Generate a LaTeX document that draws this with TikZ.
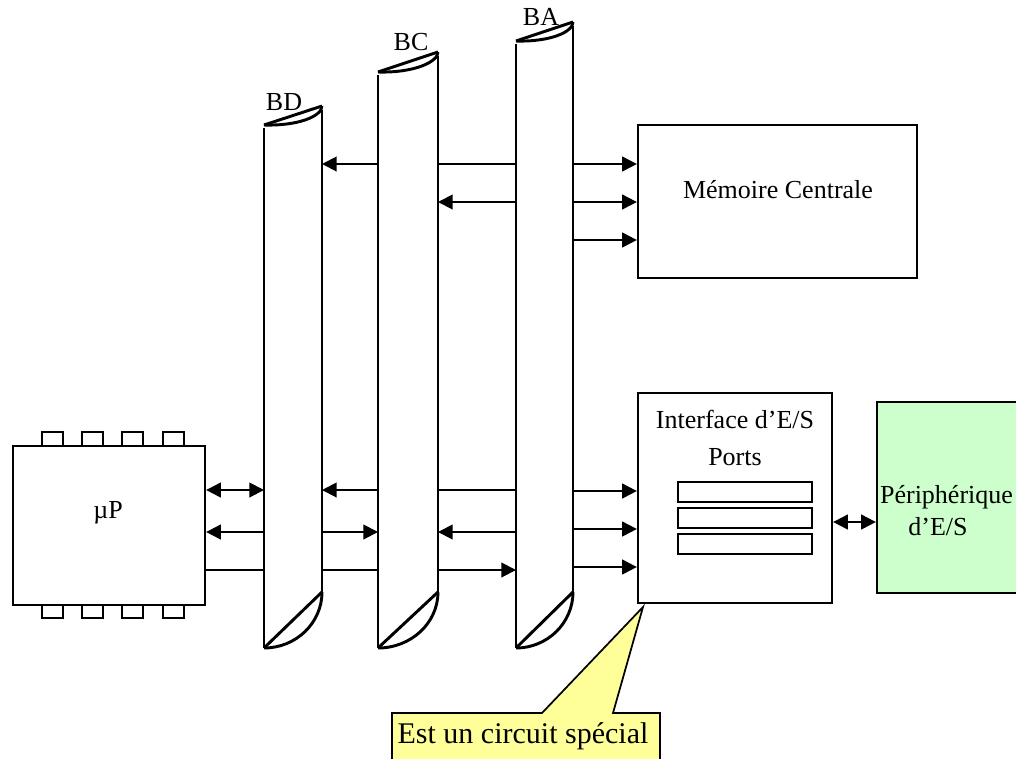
\documentclass[tikz,border=0pt]{standalone}
\usepackage{fontspec}
\setmainfont{Liberation Serif}
\usetikzlibrary{arrows.meta}
\definecolor{periphgreen}{HTML}{CCFFCC}
\definecolor{notefill}{HTML}{FFFF99}
\tikzset{
  box/.style={draw, line width=1.7pt, inner sep=0pt},
  bus/.style={inner sep=0pt, outer sep=0pt},
  busline/.style={line width=2.2pt},
  sig/.style={line width=1.5pt},
  txt/.style={anchor=base, inner sep=0pt}
}
\begin{document}
\begin{tikzpicture}[x=0.75pt,y=-0.75pt,>={Triangle[length=11pt,width=11pt]},font=\fontsize{19.5}{24}\selectfont]
\useasboundingbox (0,0) rectangle (1016,758);

% the three buses: name / left / right / lid left / lid right / label
\foreach \n/\l/\r/\t/\u/\lx/\ly in {BD/264/322/125/106/284/110,BC/378/438/72/52/411/50,BA/516/573/41/22/541/25}{
  \node[bus,minimum width={(\r-\l)*0.75pt},minimum height={(648-\u)*0.75pt}] (\n) at ({(\l+\r)/2},{(\u+648)/2}) {};
  \node[txt] (lab\n) at (\lx,\ly) {\n};
  % lid
  \draw[busline] (\l,\t) -- (\r,\u);
  \draw[busline] (\l,\t) .. controls ({\l+0.6*(\r-\l)},\t+1) and (\r,\u+10) .. (\r,\u);
  % sides
  \draw[busline] (\l,\t+3) -- (\l,648);
  \draw[busline] (\r,\u+4) -- (\r,600);
  % cut end
  \draw[busline] (\l,648) -- (\r,592);
  \draw[busline] (\l,648) .. controls ({\l+0.55*(\r-\l)},648) and (\r,623) .. (\r,592);
}

% processor with its pins
\foreach \x in {42,82,122,163} {
  \draw[line width=1.5pt] (\x,432) rectangle ++(21,14);
  \draw[line width=1.5pt] (\x,605) rectangle ++(21,13);
}
\node[box,minimum width=144pt,minimum height=119.25pt] (up) at (109,525.5) {};
\node[txt] (uplab) at (108,518) {µP};

% memory
\node[box,minimum width=209.25pt,minimum height=114.75pt] (mem) at (777.5,201.5) {};
\node[txt] (memlab) at (778,198) {Mémoire Centrale};

% I/O interface and its ports
\node[box,minimum width=145.5pt,minimum height=157.5pt] (intf) at (735,498) {};
\node[txt] (intflab) at (735,428) {Interface d’E/S};
\node[txt] (portslab) at (735,465) {Ports};
\foreach \y in {482,508,534}
  \draw[line width=1.5pt] (678,\y) rectangle (812,\y+20);

% peripheral
\node[box,fill=periphgreen,minimum width=105.75pt,minimum height=143.25pt] (periph) at (947.5,497.5) {};
\node[txt] (periphA) at (946.5,503) {Périphérique};
\node[txt] (periphB) at (938,535) {d’E/S};

% processor side
\draw[sig,<->] (up.east |- 0,490) -- (BD.west |- 0,490);
\draw[sig,->] (BD.west |- 0,532) -- (up.east |- 0,532);
\draw[sig] (up.east |- 0,570) -- (BD.west |- 0,570);

% upper links
\draw[sig,->] (BC.west |- 0,164) -- (BD.east |- 0,164);
\draw[sig] (BC.east |- 0,164) -- (BA.west |- 0,164);
\draw[sig,->] (BA.west |- 0,202) -- (BC.east |- 0,202);
\foreach \y in {164,202,240}
  \draw[sig,->] (BA.east |- 0,\y) -- (mem.west |- 0,\y);

% lower links
\draw[sig,->] (BC.west |- 0,490) -- (BD.east |- 0,490);
\draw[sig] (BC.east |- 0,490) -- (BA.west |- 0,490);
\draw[sig,->] (BD.east |- 0,532) -- (BC.west |- 0,532);
\draw[sig,->] (BA.west |- 0,532) -- (BC.east |- 0,532);
\draw[sig] (BD.east |- 0,570) -- (BC.west |- 0,570);
\draw[sig,->] (BC.east |- 0,570) -- (BA.west |- 0,570);
\foreach \y in {491,529,567}
  \draw[sig,->] (BA.east |- 0,\y) -- (intf.west |- 0,\y);
\draw[sig,<->] (intf.east |- 0,522) -- (periph.west |- 0,522);

% callout
\filldraw[fill=notefill,line width=1.3pt] (392,775) -- (392,713) -- (542,713) -- (643,607) -- (613,713) -- (660,713) -- (660,775) -- cycle;
\node[txt,font=\fontsize{22.5}{27}\selectfont] (note) at (523,743) {Est un circuit spécial};
\end{tikzpicture}
\end{document}
